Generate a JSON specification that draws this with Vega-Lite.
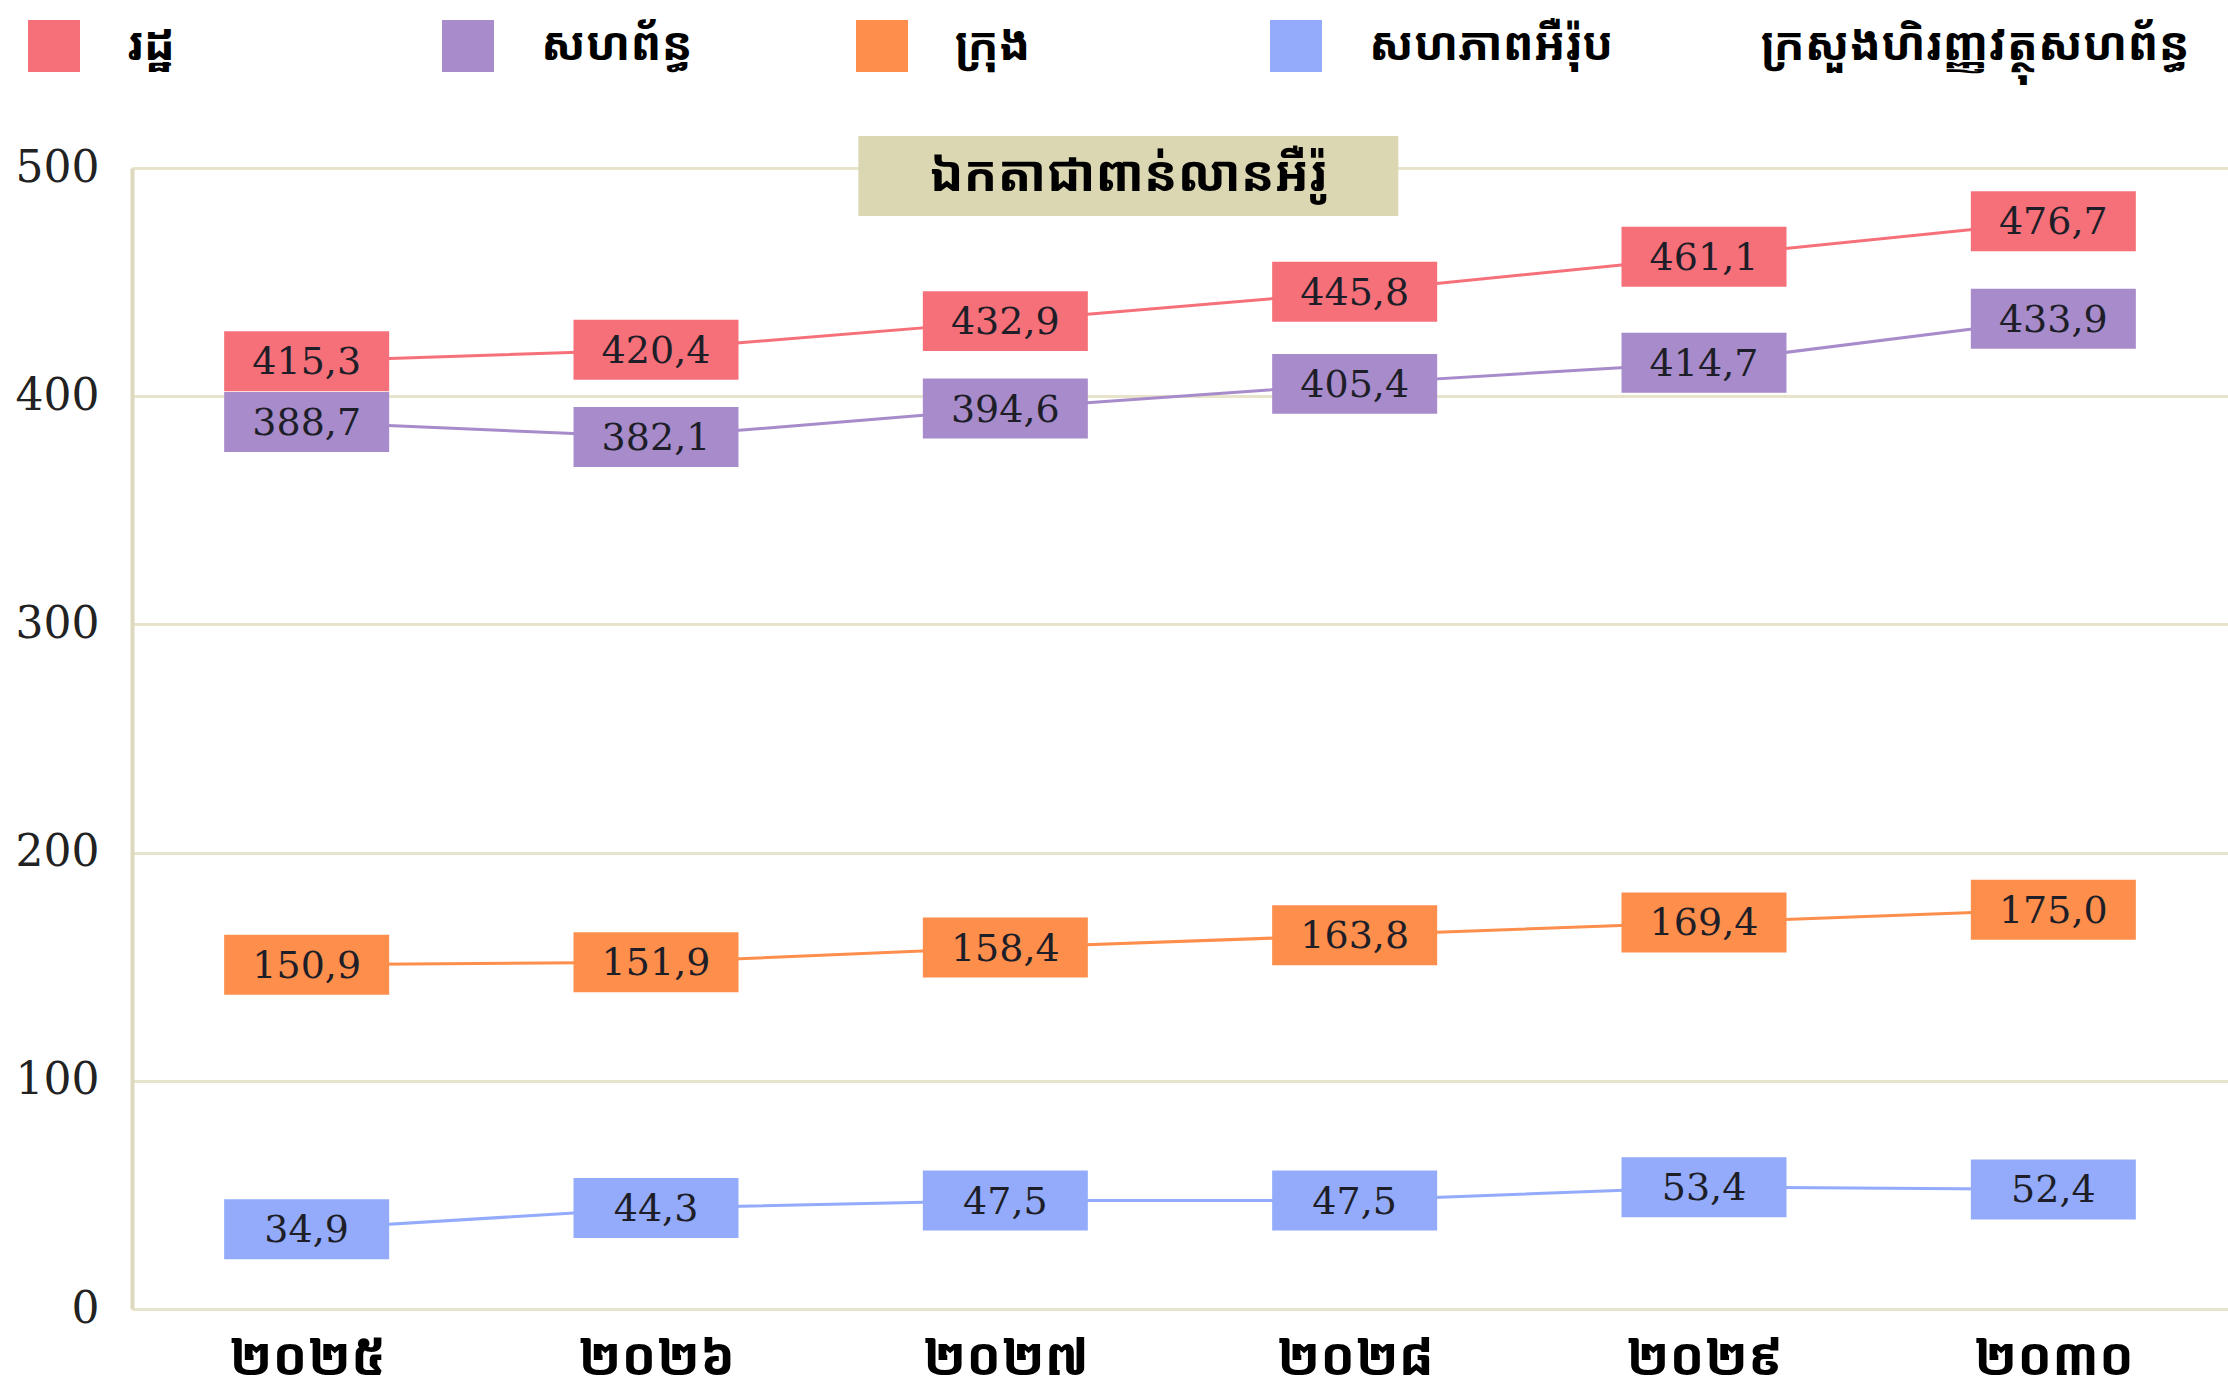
{
  "$schema": "https://vega.github.io/schema/vega-lite/v6.json",
  "width": 2096,
  "height": 1141,
  "padding": {"left": 5, "top": 20, "right": 0, "bottom": 0},
  "background": "white",
  "config": {
    "view": {"stroke": null},
    "locale": {"number": {"decimal": ",", "thousands": ".", "grouping": [3], "currency": ["", " €"]}}
  },
  "data": {
    "values": [
      {"year": "២០២៥", "series": "រដ្ឋ", "value": 415.3},
      {"year": "២០២៦", "series": "រដ្ឋ", "value": 420.4},
      {"year": "២០២៧", "series": "រដ្ឋ", "value": 432.9},
      {"year": "២០២៨", "series": "រដ្ឋ", "value": 445.8},
      {"year": "២០២៩", "series": "រដ្ឋ", "value": 461.1},
      {"year": "២០៣០", "series": "រដ្ឋ", "value": 476.7},
      {"year": "២០២៥", "series": "សហព័ន្ធ", "value": 388.7},
      {"year": "២០២៦", "series": "សហព័ន្ធ", "value": 382.1},
      {"year": "២០២៧", "series": "សហព័ន្ធ", "value": 394.6},
      {"year": "២០២៨", "series": "សហព័ន្ធ", "value": 405.4},
      {"year": "២០២៩", "series": "សហព័ន្ធ", "value": 414.7},
      {"year": "២០៣០", "series": "សហព័ន្ធ", "value": 433.9},
      {"year": "២០២៥", "series": "ក្រុង", "value": 150.9},
      {"year": "២០២៦", "series": "ក្រុង", "value": 151.9},
      {"year": "២០២៧", "series": "ក្រុង", "value": 158.4},
      {"year": "២០២៨", "series": "ក្រុង", "value": 163.8},
      {"year": "២០២៩", "series": "ក្រុង", "value": 169.4},
      {"year": "២០៣០", "series": "ក្រុង", "value": 175.0},
      {"year": "២០២៥", "series": "សហភាពអឺរ៉ុប", "value": 34.9},
      {"year": "២០២៦", "series": "សហភាពអឺរ៉ុប", "value": 44.3},
      {"year": "២០២៧", "series": "សហភាពអឺរ៉ុប", "value": 47.5},
      {"year": "២០២៨", "series": "សហភាពអឺរ៉ុប", "value": 47.5},
      {"year": "២០២៩", "series": "សហភាពអឺរ៉ុប", "value": 53.4},
      {"year": "២០៣០", "series": "សហភាពអឺរ៉ុប", "value": 52.4}
    ]
  },
  "layer": [
    {
      "encoding": {
        "x": {
          "field": "year", "type": "ordinal", "sort": null,
          "scale": {"type": "point", "padding": 0.5},
          "axis": {
            "title": null, "domain": false, "ticks": false, "grid": false, "labelAngle": 0,
            "labelPadding": 49, "labelBaseline": "middle", "labelFontSize": 52, "labelFontWeight": "bold",
            "labelColor": "#000000", "labelFont": "Noto Sans Khmer, Khmer OS, sans-serif"
          }
        },
        "y": {
          "field": "value", "type": "quantitative",
          "scale": {"domain": [0, 500], "nice": false},
          "axis": {
            "title": null, "values": [0, 100, 200, 300, 400, 500], "ticks": false,
            "domain": true, "domainColor": "#DDD9BE", "domainWidth": 4,
            "grid": true, "gridColor": "#E8E4CC", "gridWidth": 3,
            "labelFont": "DejaVu Serif", "labelFontSize": 44, "labelColor": "#222222",
            "labelPadding": 33, "minExtent": 127, "format": "d"
          }
        },
        "color": {
          "field": "series", "type": "nominal",
          "scale": {
            "domain": ["រដ្ឋ", "សហព័ន្ធ", "ក្រុង", "សហភាពអឺរ៉ុប"],
            "range": ["#F6707A", "#A78BCB", "#FD8E4B", "#93ABFA"]
          },
          "legend": {
            "orient": "none", "legendX": -104, "legendY": -148, "direction": "horizontal",
            "columns": 4, "gridAlign": "all",
            "padding": 0, "symbolType": "square", "symbolSize": 2704, "symbolStrokeWidth": 0,
            "labelFont": "Noto Sans Khmer, Khmer OS, sans-serif", "labelFontSize": 46, "labelFontWeight": "bold",
            "labelColor": "#000000", "labelOffset": 47, "columnPadding": 70, "labelLimit": 600,
            "title": "ក្រសួងហិរញ្ញវត្ថុសហព័ន្ធ", "titleOrient": "right", "titlePadding": 148,
            "titleFont": "Noto Sans Khmer, Khmer OS, sans-serif", "titleFontSize": 46,
            "titleFontWeight": "bold", "titleColor": "#000000", "titleLimit": 800
          }
        }
      },
      "layer": [
        {"mark": {"type": "line", "strokeWidth": 3}},
        {
          "mark": {
            "type": "point", "filled": true, "opacity": 1, "strokeWidth": 0,
            "shape": "M-1,-0.3636H1V0.3636H-1Z", "size": 27225
          }
        },
        {
          "mark": {"type": "text", "font": "DejaVu Serif", "fontSize": 38, "baseline": "middle", "dy": 2},
          "encoding": {
            "text": {"field": "value", "type": "quantitative", "format": ".1f"},
            "color": {"value": "#1E1E28"}
          }
        }
      ]
    },
    {
      "data": {"values": [{"unit": "ឯកតាជាពាន់លានអឺរ៉ូ"}]},
      "encoding": {
        "x": {"datum": "២០២៧", "type": "ordinal"},
        "y": {"datum": 496.5, "type": "quantitative"}
      },
      "layer": [
        {
          "mark": {
            "type": "point", "filled": true, "opacity": 1, "strokeWidth": 0, "fill": "#DBD7B2",
            "shape": "M-1,-0.148H1V0.148H-1Z", "size": 291600, "xOffset": 123
          }
        },
        {
          "mark": {
            "type": "text", "font": "Noto Sans Khmer, Khmer OS, sans-serif", "fontSize": 50, "fontWeight": "bold",
            "fill": "#000000", "baseline": "middle", "xOffset": 123
          },
          "encoding": {"text": {"field": "unit"}}
        }
      ]
    }
  ]
}
